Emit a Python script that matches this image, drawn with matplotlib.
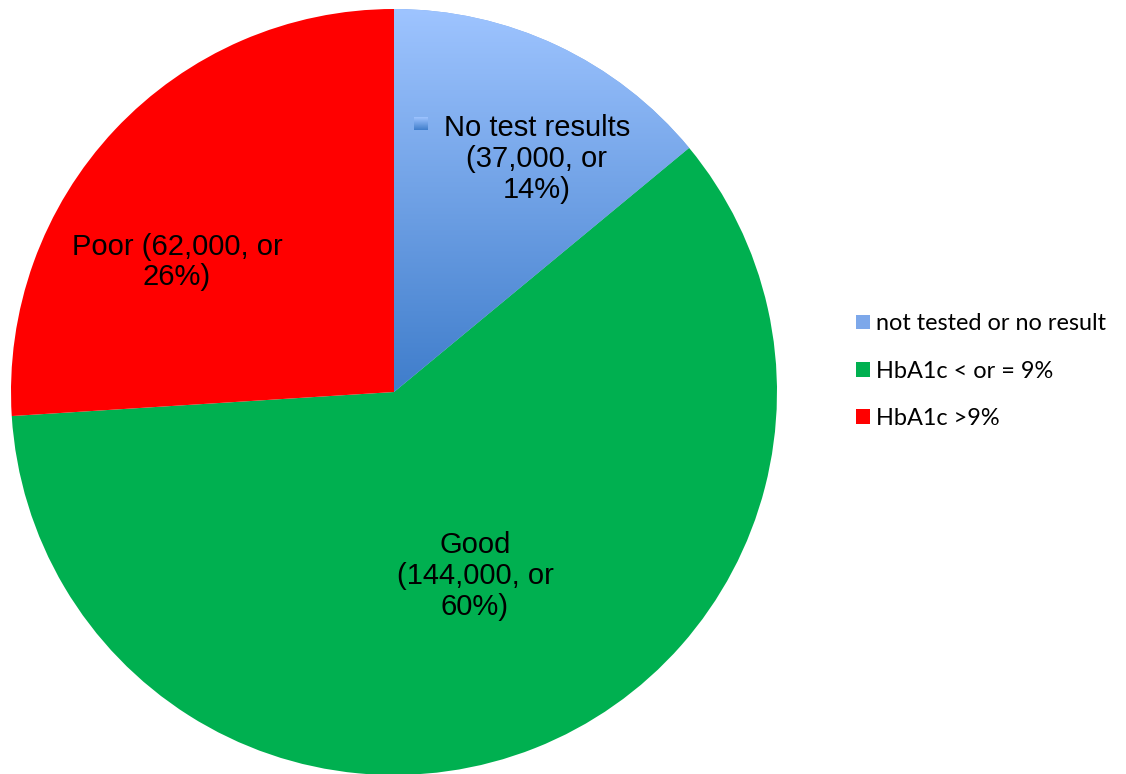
import numpy as np
import matplotlib
matplotlib.use("Agg")
import matplotlib.pyplot as plt
from matplotlib.colors import LinearSegmentedColormap
from matplotlib.patches import Patch

plt.rcParams['font.family'] = ['Liberation Sans', 'DejaVu Sans']

# data
categories = ['not tested or no result', 'HbA1c < or = 9%', 'HbA1c >9%']
counts = [37000, 144000, 62000]
shares = [14, 60, 26]
slice_labels = ['No test results\n(37,000, or\n14%)', 'Good\n(144,000, or\n60%)', 'Poor (62,000, or\n26%)']
colors = ['#7DA8EA', '#00B050', '#FF0000']

W, H = 1126, 774
fig = plt.figure(figsize=(W / 100, H / 100), dpi=100)
# pie occupies left part: centre ~(394, 392) px, radius ~383 px
cx, cy, r = 394, 392, 383
ax = fig.add_axes([(cx - r) / W, (H - cy - r) / H, 2 * r / W, 2 * r / H])
wedges, _ = ax.pie(shares, colors=colors, startangle=90, counterclock=False,
                   radius=1, wedgeprops=dict(linewidth=0))
ax.set_aspect('equal')
ax.axis('off')

# gradient on the blue slice
blue_cmap = LinearSegmentedColormap.from_list('b', ['#3F7DCB', '#9EC4FF'])
grad = np.linspace(0, 1, 256).reshape(-1, 1)
img = ax.imshow(grad, cmap=blue_cmap, extent=[-1, 1, 0, 1], origin='lower',
                aspect='auto', zorder=2)
img.set_clip_path(wedges[0])


def px(x, y):
    return (x - cx) / r, (cy - y) / r


fs = 21
ax.text(*px(537, 159), slice_labels[0], ha='center', va='center', fontsize=fs,
        linespacing=1.12, zorder=5)
ax.text(*px(475, 576), slice_labels[1], ha='center', va='center', fontsize=fs,
        linespacing=1.12, zorder=5)
ax.text(*px(177, 262), slice_labels[2], ha='center', va='center', fontsize=fs,
        linespacing=1.12, zorder=5)

# little gradient marker next to "No test results"
mx0, my0 = px(414, 130)
mx1, my1 = px(428, 117)
ax.imshow(grad, cmap=blue_cmap, extent=[mx0, mx1, my0, my1], origin='lower',
          aspect='auto', zorder=5)
ax.set_xlim(-1, 1)
ax.set_ylim(-1, 1)

handles = [Patch(facecolor=c, edgecolor='none') for c in colors]
fig.legend(handles, categories, loc='center left', bbox_to_anchor=(856 / W, 1 - 371 / H),
           frameon=False, borderpad=0, borderaxespad=0, handlelength=0.58, handleheight=0.58,
           handletextpad=0.28, labelspacing=1.12,
           prop={'family': ['Lato', 'DejaVu Sans'], 'size': 16.9})

fig.savefig('out.png', dpi=100)
